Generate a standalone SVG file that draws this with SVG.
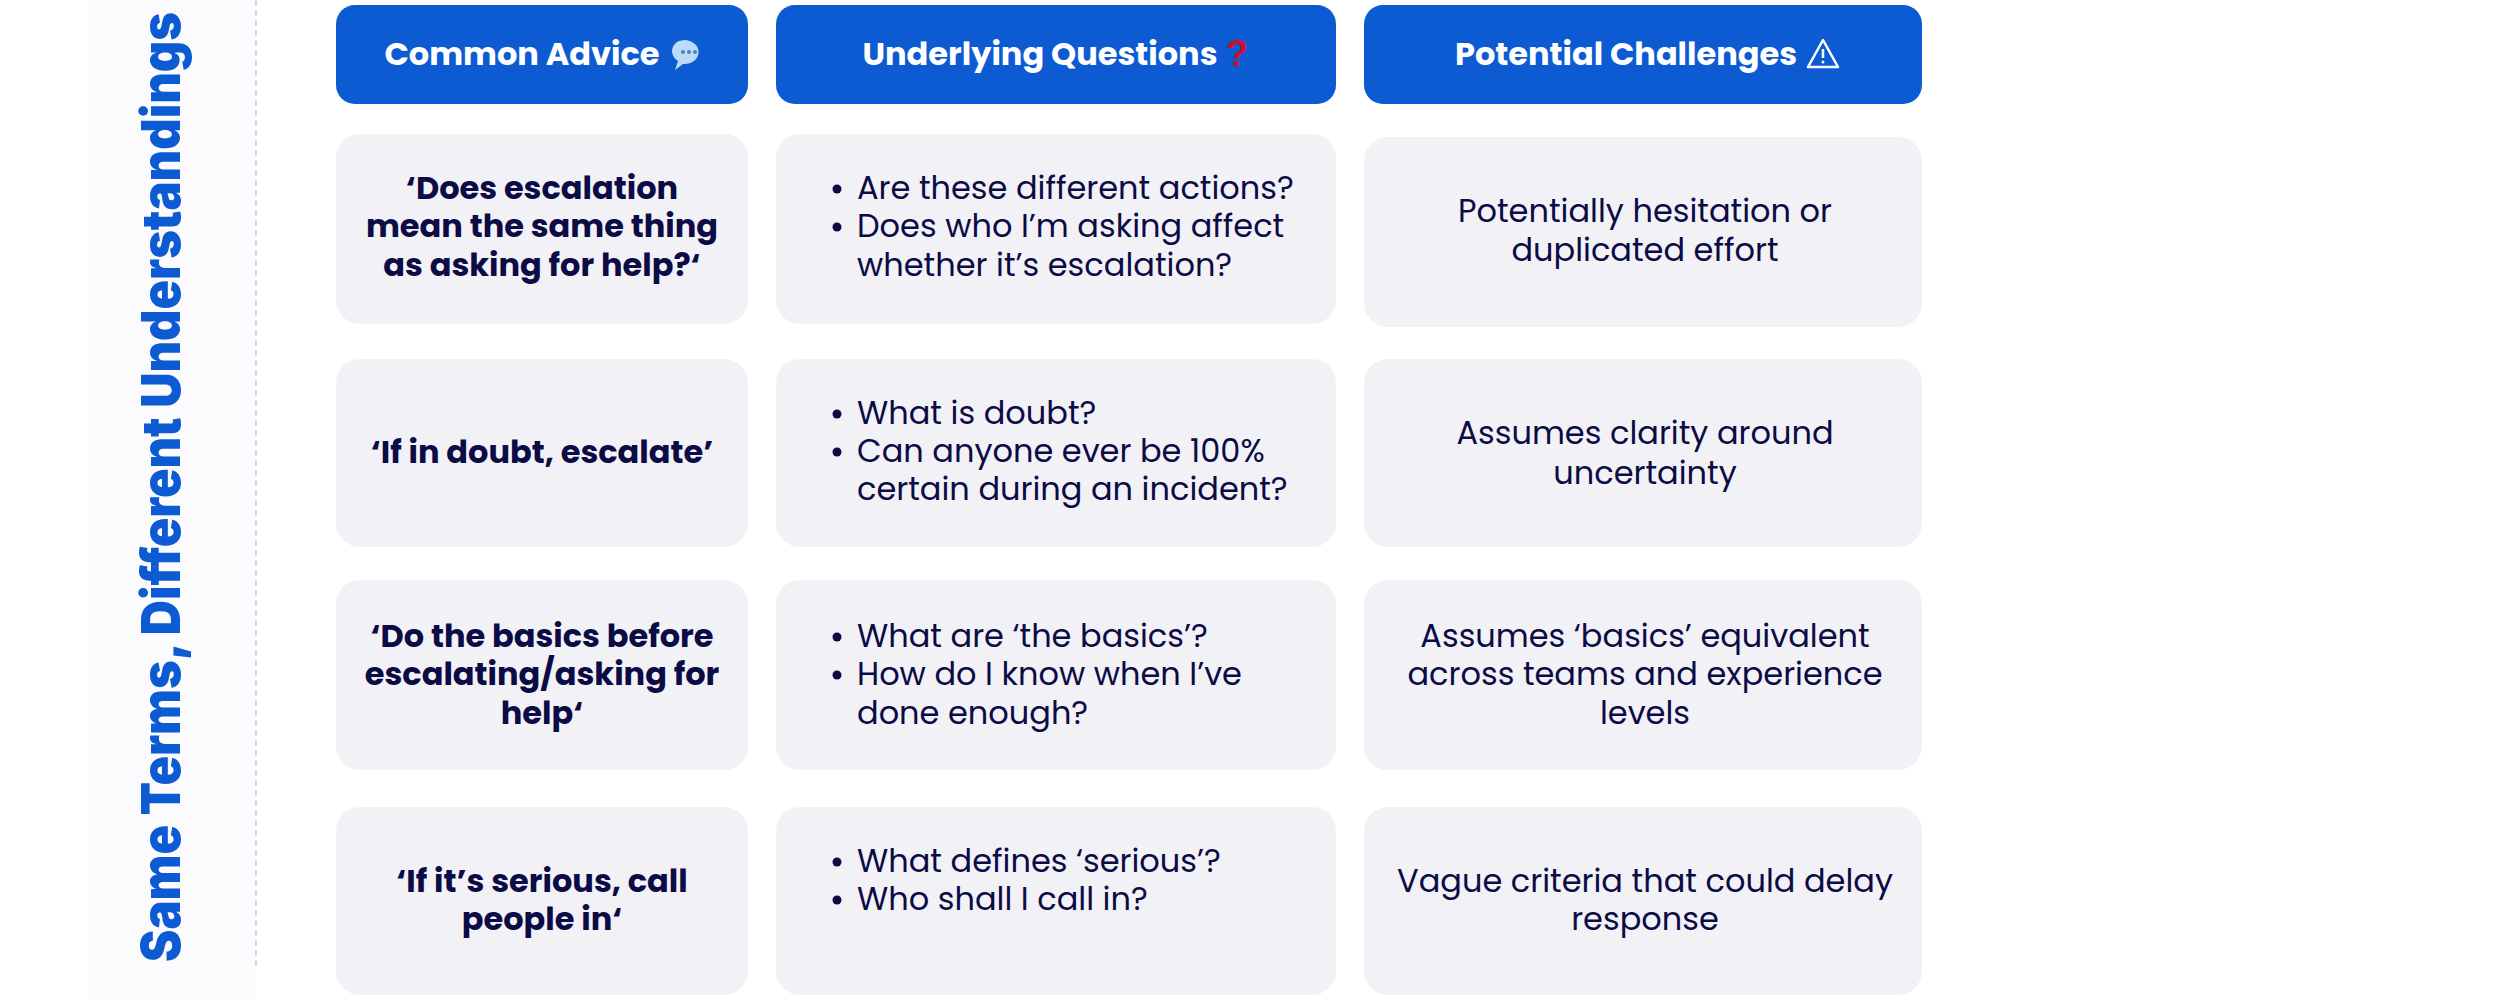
<svg xmlns="http://www.w3.org/2000/svg" width="2500" height="1000" viewBox="0 0 2500 1000">
<style>
.h{fill:#0d5bd3}
.c{fill:#f2f1f6}
.ht{font-family:"Poppins","Inter","Liberation Sans",sans-serif;font-weight:700;font-size:32px;fill:#fff;text-anchor:middle}
.b{font-family:"Poppins","Inter","Liberation Sans",sans-serif;font-weight:700;font-size:32px;fill:#0b0b45;text-anchor:middle}
.n{font-family:"Poppins","Inter","Liberation Sans",sans-serif;font-weight:400;font-size:32px;fill:#0b0b45;text-anchor:middle}
.q{font-family:"Poppins","Inter","Liberation Sans",sans-serif;font-weight:400;font-size:32px;fill:#0b0b45}
</style>
<rect width="2500" height="1000" fill="#fff"/>
<g id="title">
<rect x="88" y="0" width="167" height="1000" fill="#fbfbfd"/>
<line x1="256" y1="0" x2="256" y2="970" stroke="#d6d4ea" stroke-width="2" stroke-dasharray="6,4"/>
<text transform="translate(180,962) rotate(-90)" font-family="Inter,'Liberation Sans',sans-serif" font-weight="900" font-size="54" fill="#0d5bd3" textLength="950" lengthAdjust="spacingAndGlyphs">Same Terms, Different Understandings</text>
</g>
<g id="h1"><rect class="h" x="336" y="5" width="412" height="99" rx="19"/><text class="ht" x="522" y="65">Common Advice</text>
<path d="M677 42a14 12 0 1 1 6 22l-8 6 3-9a14 12 0 0 1-1-19z" fill="#b9dcf7"/><circle cx="683" cy="52" r="2" fill="#4a7fc0"/><circle cx="689" cy="52" r="2" fill="#4a7fc0"/><circle cx="695" cy="52" r="2" fill="#4a7fc0"/></g>
<g id="h2"><rect class="h" x="776" y="5" width="560" height="99" rx="19"/><text class="ht" x="1040" y="65">Underlying Questions</text><text x="1226" y="66" font-family="'Liberation Sans',sans-serif" font-weight="700" font-size="36" fill="#c8102e">?</text></g>
<g id="h3"><rect class="h" x="1364" y="5" width="558" height="99" rx="19"/><text class="ht" x="1626" y="65">Potential Challenges</text>
<path d="M1823 40l15 27h-30z" fill="none" stroke="#fff" stroke-width="2.5" stroke-linejoin="round"/><line x1="1823" y1="49" x2="1823" y2="58" stroke="#fff" stroke-width="2.5"/><circle cx="1823" cy="62" r="1.5" fill="#fff"/></g>

<g id="r1c1"><rect class="c" x="336" y="134" width="412" height="190" rx="24"/><text class="b" x="542" y="199">‘Does escalation</text><text class="b" x="542" y="237">mean the same thing</text><text class="b" x="542" y="276">as asking for help?‘</text></g>
<g id="r1c2"><rect class="c" x="776" y="134" width="560" height="190" rx="24"/><circle cx="837" cy="189" r="4.5" fill="#0b0b45"/><circle cx="837" cy="227" r="4.5" fill="#0b0b45"/><text class="q" x="857" y="199">Are these different actions?</text><text class="q" x="857" y="237">Does who I’m asking affect</text><text class="q" x="857" y="276">whether it’s escalation?</text></g>
<g id="r1c3"><rect class="c" x="1364" y="137" width="558" height="190" rx="24"/><text class="n" x="1645" y="222">Potentially hesitation or</text><text class="n" x="1645" y="261">duplicated effort</text></g>

<g id="r2c1"><rect class="c" x="336" y="359" width="412" height="188" rx="24"/><text class="b" x="542" y="463">‘If in doubt, escalate’</text></g>
<g id="r2c2"><rect class="c" x="776" y="359" width="560" height="188" rx="24"/><circle cx="837" cy="414" r="4.5" fill="#0b0b45"/><circle cx="837" cy="452" r="4.5" fill="#0b0b45"/><text class="q" x="857" y="424">What is doubt?</text><text class="q" x="857" y="462">Can anyone ever be 100%</text><text class="q" x="857" y="500">certain during an incident?</text></g>
<g id="r2c3"><rect class="c" x="1364" y="359" width="558" height="188" rx="24"/><text class="n" x="1645" y="444">Assumes clarity around</text><text class="n" x="1645" y="484">uncertainty</text></g>

<g id="r3c1"><rect class="c" x="336" y="580" width="412" height="190" rx="24"/><text class="b" x="542" y="647">‘Do the basics before</text><text class="b" x="542" y="685">escalating/asking for</text><text class="b" x="542" y="724">help‘</text></g>
<g id="r3c2"><rect class="c" x="776" y="580" width="560" height="190" rx="24"/><circle cx="837" cy="637" r="4.5" fill="#0b0b45"/><circle cx="837" cy="675" r="4.5" fill="#0b0b45"/><text class="q" x="857" y="647">What are ‘the basics’?</text><text class="q" x="857" y="685">How do I know when I’ve</text><text class="q" x="857" y="724">done enough?</text></g>
<g id="r3c3"><rect class="c" x="1364" y="580" width="558" height="190" rx="24"/><text class="n" x="1645" y="647">Assumes ‘basics’ equivalent</text><text class="n" x="1645" y="685">across teams and experience</text><text class="n" x="1645" y="724">levels</text></g>

<g id="r4c1"><rect class="c" x="336" y="807" width="412" height="188" rx="24"/><text class="b" x="542" y="892">‘If it’s serious, call</text><text class="b" x="542" y="930">people in‘</text></g>
<g id="r4c2"><rect class="c" x="776" y="807" width="560" height="188" rx="24"/><circle cx="837" cy="862" r="4.5" fill="#0b0b45"/><circle cx="837" cy="900" r="4.5" fill="#0b0b45"/><text class="q" x="857" y="872">What defines ‘serious’?</text><text class="q" x="857" y="910">Who shall I call in?</text></g>
<g id="r4c3"><rect class="c" x="1364" y="807" width="558" height="188" rx="24"/><text class="n" x="1645" y="892">Vague criteria that could delay</text><text class="n" x="1645" y="930">response</text></g>
<g id="connectors"/>
</svg>
